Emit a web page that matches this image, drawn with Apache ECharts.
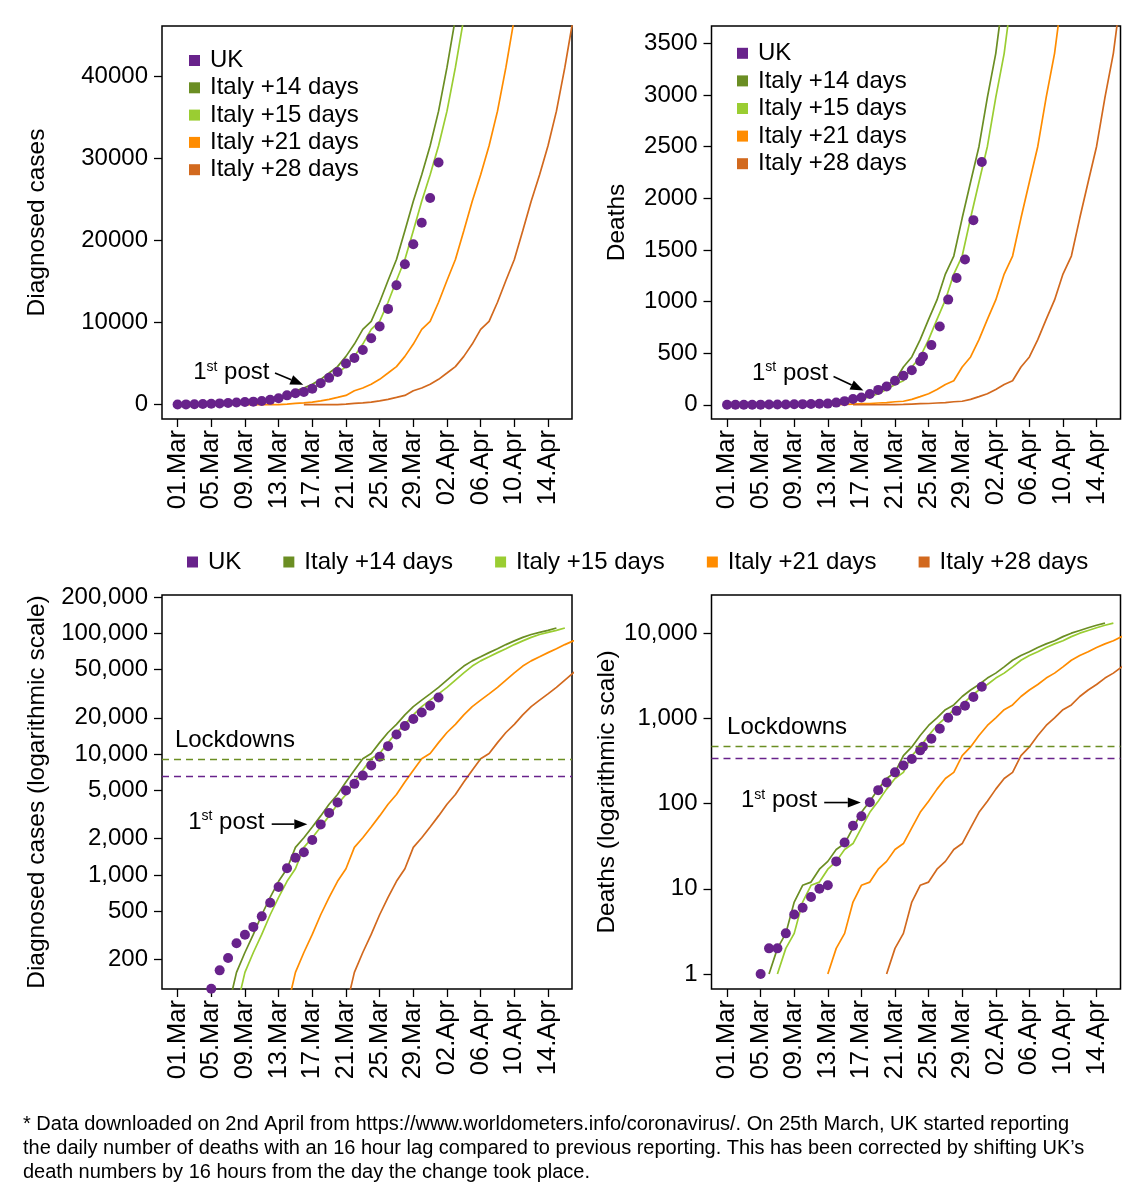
<!DOCTYPE html>
<html><head><meta charset="utf-8">
<script src="https://cdn.jsdelivr.net/npm/echarts@6/dist/echarts.min.js"></script>
<style>html,body{margin:0;padding:0;background:#fff}#c{width:1146px;height:1200px}</style>
</head><body><div id="c"></div>
<script>
const FONT = '"Liberation Sans", Arial, Helvetica, sans-serif';
const FS = 24;

// x axis: days since 01 Mar 2020
const xTickDays = [0, 4, 8, 12, 16, 20, 24, 28, 32, 36, 40, 44];
const xTickLabels = ['01.Mar','05.Mar','09.Mar','13.Mar','17.Mar','21.Mar','25.Mar','29.Mar','02.Apr','06.Apr','10.Apr','14.Apr'];

// UK, 01 Mar .. 01 Apr (cumulative)
const ukCases = [36,40,51,85,115,163,206,273,321,373,456,590,798,1140,1391,1543,1950,2626,3269,3983,5018,5683,6650,8077,9529,11658,14543,17089,19522,22141,25150,29474];
const ukDeaths = [0,0,0,0,1,2,2,3,5,6,8,10,11,21,35,55,71,104,144,177,233,281,335,422,465,578,759,1019,1228,1408,1789,2352];
const ukDeathShiftFromDay = 24;      // 25 Mar
const ukDeathShiftDays = -16 / 24;   // 16 hour correction

// Italy, 17 Feb .. 01 Apr (cumulative)
const italyStartDay = -13;           // 17 Feb relative to 01 Mar
const italyCases = [3,3,3,3,20,79,157,229,323,470,655,889,1128,1694,2036,2502,3089,3858,4636,5883,7375,9172,10149,12462,15113,17660,21157,24747,27980,31506,35713,41035,47021,53578,59138,63927,69176,74386,80589,86498,92472,97689,101739,105792,110574];
const italyDeaths = [0,0,0,0,1,2,3,7,11,12,17,21,29,34,52,79,107,148,197,233,366,463,631,827,1016,1266,1441,1809,2158,2503,2978,3405,4032,4825,5476,6077,6820,7503,8165,9134,10023,10779,11591,12428,13155];
const italyShifts = [14, 15, 21, 28];

const seriesNames = ['UK', 'Italy +14 days', 'Italy +15 days', 'Italy +21 days', 'Italy +28 days'];
const seriesColors = ['#68228b', '#6b8e23', '#9acd32', '#ff8c00', '#d2691e'];

// lockdown levels (Italy 09 Mar, UK 23 Mar)
const lockdownCases = [9172, 6650];
const lockdownDeaths = [463, 335];

// y ticks
const casesTicks = [0, 10000, 20000, 30000, 40000];
const deathsTicks = [0, 500, 1000, 1500, 2000, 2500, 3000, 3500];
const logCasesTicks = [200, 500, 1000, 2000, 5000, 10000, 20000, 50000, 100000, 200000];
const logDeathsTicks = [1, 10, 100, 1000, 10000];

const footLines = [
  '* Data downloaded on 2nd April from https://www.worldometers.info/coronavirus/. On 25th March, UK started reporting',
  'the daily number of deaths with an 16 hour lag compared to previous reporting. This has been corrected by shifting UK\u2019s',
  'death numbers by 16 hours from the day the change took place.'
];

const panels = [
  {grid:{left:162,top:26,width:410,height:393}, ymin:-1737, ymax:46070, log:false, ticks:casesTicks,
   uk:ukCases, it:italyCases, shiftDeaths:false, name:'Diagnosed cases', nameGap:112, lock:null},
  {grid:{left:711.5,top:26,width:409,height:393}, ymin:-138, ymax:3670, log:false, ticks:deathsTicks,
   uk:ukDeaths, it:italyDeaths, shiftDeaths:true, name:'Deaths', nameGap:82, lock:null},
  {grid:{left:162,top:595,width:410,height:394}, ymin:114.3, ymax:207300, log:true, ticks:logCasesTicks,
   uk:ukCases, it:italyCases, shiftDeaths:false, name:'Diagnosed cases (logarithmic scale)', nameGap:112, lock:lockdownCases},
  {grid:{left:711.5,top:595,width:409,height:394}, ymin:0.667, ymax:28130, log:true, ticks:logDeathsTicks,
   uk:ukDeaths, it:italyDeaths, shiftDeaths:true, name:'Deaths (logarithmic scale)', nameGap:82, lock:lockdownDeaths}
];

function tv(v, log) { if (!log) return v; return v > 0 ? Math.log10(v) : null; }
function fmtNum(v, log) {
  if (!log) return String(Math.round(v));
  return Math.round(Math.pow(10, v)).toLocaleString('en-US');
}

const grids = [], xAxes = [], yAxes = [], series = [];
panels.forEach((p, gi) => {
  grids.push(Object.assign({show:true, borderColor:'#000', borderWidth:1.5, backgroundColor:'transparent', containLabel:false, outerBoundsMode:'none'}, p.grid));
  xAxes.push({
    gridIndex:gi, type:'value', min:-1.85, max:46.85,
    axisLine:{show:false, onZero:false}, splitLine:{show:false},
    axisTick:{show:true, customValues:xTickDays, length:8, lineStyle:{color:'#000', width:1.3}},
    axisLabel:{customValues:xTickDays, rotate:90, margin:11, fontSize:25.5, color:'#000', fontFamily:FONT,
      formatter:v => { const i = xTickDays.indexOf(Math.round(v)); return i >= 0 ? xTickLabels[i] : ''; }}
  });
  const tvals = p.ticks.map(t => tv(t, p.log));
  yAxes.push({
    gridIndex:gi, type:'value', min:tv(p.ymin, p.log), max:tv(p.ymax, p.log),
    axisLine:{show:false, onZero:false}, splitLine:{show:false},
    axisTick:{show:true, customValues:tvals, length:8, lineStyle:{color:'#000', width:1.3}},
    axisLabel:{customValues:tvals, margin:14, fontSize:FS, color:'#000', fontFamily:FONT,
      formatter:v => fmtNum(v, p.log)},
    name:p.name, nameLocation:'middle', nameRotate:90, nameGap:p.nameGap,
    nameTextStyle:{fontSize:24.5, color:'#000', fontFamily:FONT}
  });
  italyShifts.forEach((s, k) => {
    series.push({
      type:'line', name:seriesNames[k+1], xAxisIndex:gi, yAxisIndex:gi,
      data:p.it.map((v, i) => [italyStartDay + i + s, tv(v, p.log)]),
      showSymbol:false, symbol:'none', clip:true, z:2, animation:false,
      lineStyle:{color:seriesColors[k+1], width:1.7}, itemStyle:{color:seriesColors[k+1]}
    });
  });
  const ukSeries = {
    type:'scatter', name:seriesNames[0], xAxisIndex:gi, yAxisIndex:gi, clip:true, z:3, animation:false,
    data:p.uk.map((v, i) => [i + (p.shiftDeaths && i >= ukDeathShiftFromDay ? ukDeathShiftDays : 0), tv(v, p.log)]),
    symbol:'circle', symbolSize:10, itemStyle:{color:seriesColors[0], opacity:1}
  };
  if (p.lock) {
    ukSeries.markLine = {
      silent:true, symbol:['none','none'], animation:false, label:{show:false},
      data:[
        {yAxis:tv(p.lock[0], true), lineStyle:{color:seriesColors[1], type:[7,5], width:1.3}},
        {yAxis:tv(p.lock[1], true), lineStyle:{color:seriesColors[0], type:[7,5], width:1.3}}
      ]
    };
  }
  series.push(ukSeries);
});

const legendBase = {
  data:seriesNames, icon:'rect', itemWidth:11, itemHeight:11, selectedMode:false, padding:0,
  textStyle:{fontSize:FS, color:'#000', fontFamily:FONT, lineHeight:24, padding:[0,0,0,5]}
};
const legends = [
  Object.assign({}, legendBase, {orient:'vertical', left:189, top:48.5, itemGap:3.3}),
  Object.assign({}, legendBase, {orient:'vertical', left:737, top:41.3, itemGap:3.6}),
  Object.assign({}, legendBase, {orient:'horizontal', left:187, top:550, itemGap:42})
];

const chart = echarts.init(document.getElementById('c'), null, {renderer:'canvas'});
chart.setOption({
  backgroundColor:'#fff', animation:false,
  textStyle:{fontFamily:FONT},
  grid:grids, xAxis:xAxes, yAxis:yAxes, series:series, legend:legends
});

// annotations in data coordinates of each panel
const annotations = [
  {g:0, text:[1.85, 3890], from:[11.57, 3850], to:[14.93, 2430]},
  {g:1, text:[2.97, 307], from:[12.68, 274], to:[16.24, 138]},
  {g:2, text:[1.26, 2720], from:[11.18, 2640], to:[15.41, 2640]},
  {g:3, text:[1.66, 108], from:[11.57, 103], to:[15.93, 103]}
];
const lockLabels = [{g:2, pos:[-0.32, 13120]}, {g:3, pos:[0, 782]}];

const graphics = [];
function px(g, pt) {
  const p = panels[g];
  return chart.convertToPixel({gridIndex:g}, [pt[0], tv(pt[1], p.log)]);
}
annotations.forEach(a => {
  const t = px(a.g, a.text), f = px(a.g, a.from), e = px(a.g, a.to);
  graphics.push({type:'text', silent:true, style:{x:t[0], y:t[1], text:'{n|1}{s|st}{n| post}', verticalAlign:'middle', align:'left',
    rich:{n:{fontSize:FS, fontFamily:FONT, fill:'#000', lineHeight:26}, s:{fontSize:14, fontFamily:FONT, fill:'#000', verticalAlign:'top', lineHeight:14}}}});
  const dx = e[0]-f[0], dy = e[1]-f[1], L = Math.hypot(dx, dy), ux = dx/L, uy = dy/L;
  const hl = 13, hw = 5;
  const bx = e[0]-ux*hl, by = e[1]-uy*hl;
  graphics.push({type:'line', silent:true, shape:{x1:f[0], y1:f[1], x2:bx, y2:by}, style:{stroke:'#000', lineWidth:1.6}});
  graphics.push({type:'polygon', silent:true, shape:{points:[[e[0],e[1]],[bx-uy*hw, by+ux*hw],[bx+uy*hw, by-ux*hw]]}, style:{fill:'#000'}});
});
lockLabels.forEach(l => {
  const t = px(l.g, l.pos);
  graphics.push({type:'text', silent:true, style:{x:t[0], y:t[1], text:'Lockdowns', fontSize:FS, fontFamily:FONT, fill:'#000', verticalAlign:'middle', align:'left'}});
});
footLines.forEach((s, i) => {
  graphics.push({type:'text', silent:true, style:{x:23, y:1124 + i*24, text:s, fontSize:20, fontFamily:FONT, fill:'#000', verticalAlign:'middle', align:'left'}});
});
chart.setOption({graphic:graphics});
</script></body></html>
